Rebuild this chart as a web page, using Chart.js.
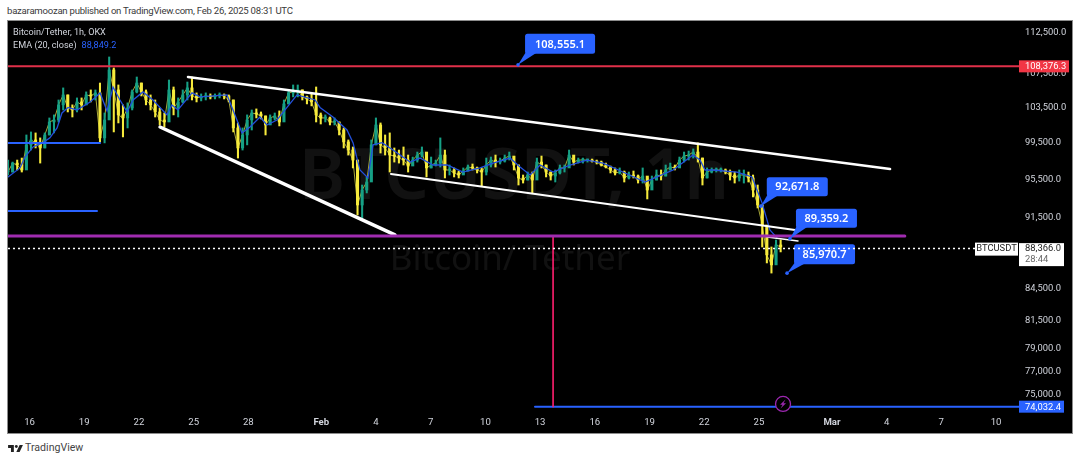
<!DOCTYPE html>
<html>
<head>
<meta charset="utf-8">
<title>BTCUSDT</title>
<script src="https://cdn.jsdelivr.net/npm/chart.js@4"></script>
<style>
  html, body { margin: 0; padding: 0; background: #fff; overflow: hidden; }
  body { width: 1080px; height: 461px; position: relative; font-family: Roboto, sans-serif; }
  #byline { position: absolute; left: 7px; top: 4px; font-size: 9.6px; letter-spacing: -0.25px; line-height: 14px; color: #3a3a3a; white-space: nowrap; }
  #frame { position: absolute; left: 7px; top: 20px; width: 1064px; height: 412px; background: #000; border: 1px solid #8c8c8c; }
  #frame canvas { display: block; }
  #legend { position: absolute; left: 5px; top: 5px; font-size: 9.1px; line-height: 12.5px; color: #d1d4dc; white-space: nowrap; }
  #legend span { color: #2962ff; margin-left: 5px; }
  #brand { position: absolute; left: 8px; top: 441px; font-size: 10.6px; line-height: 14px; color: #444; white-space: nowrap; }
  #brand svg { position: absolute; left: 0; top: 4px; }
  #brand b { font-weight: 400; margin-left: 17px; }
</style>
</head>
<body>
<div id="byline">bazaramoozan published on TradingView.com, Feb 26, 2025 08:31 UTC</div>
<div id="frame">
  <canvas id="chart" width="1064" height="412"></canvas>
  <div id="legend">Bitcoin/Tether, 1h, OKX<br>EMA (20, close)<span>88,849.2</span></div>
</div>
<div id="brand">
  <svg width="15" height="7" viewBox="0 0 36 17"><path fill="#222" d="M14 17H7V7H0V0h14zM28 17h-8L28 0h8z"/><circle fill="#222" cx="20" cy="3.5" r="3.5"/></svg>
  <b>TradingView</b>
</div>

<script>
// days are counted from Jan 16 2025, candles sit roughly six hours apart
var firstCandleDay = -1.18;
var candleStep = 0.2522;

var candleHigh = [97580,97360,97580,97800,100360,100700,100590,100030,100590,102290,102640,104370,105790,104960,103800,104610,104610,105320,105550,105550,106370,102860,109520,108180,106140,103800,104030,105550,107090,106370,105550,104960,104370,103440,102860,106730,105900,104610,105550,106490,107090,105200,105080,105200,105080,105080,105200,105080,104960,104370,101720,101150,102640,103210,103330,102980,102520,102640,102860,103100,104370,105550,106140,106140,105550,104840,105080,105900,102860,102640,102400,102290,101830,101150,99800,99020,97580,94890,95750,99800,102290,101720,100360,100590,98910,98680,99020,98130,97910,98460,99020,98130,97910,97580,100030,98680,97040,96720,96390,96720,97040,97150,96820,96720,97800,97910,98130,97800,98130,98460,97910,97040,95960,96280,96280,97800,98020,97040,96280,96500,97040,97040,98680,97800,97800,97800,97690,97690,97580,97470,97250,96930,96720,96720,96390,96280,96390,95960,96720,95640,95850,96500,96500,97040,97250,97040,97910,98460,98570,98800,99470,97800,96720,96720,96720,96720,96610,96500,96280,96500,96500,96280,95960,94890,92790,90430,88530,89230,89230];
var candleLow = [95960,96280,96500,96280,97040,98680,98910,97250,98910,100360,100590,101830,103210,102980,102400,102980,103210,103800,104140,104370,99580,99470,104960,100700,101720,100140,101150,103210,105200,104840,103800,103210,102400,101490,101260,102290,102640,102400,104030,104370,104370,104140,104260,104370,104490,104490,104610,104490,104140,100700,97800,98680,99250,100920,102290,102180,100360,101600,102060,101380,102290,103910,104730,104730,104370,103910,103680,101830,101600,101830,101490,101490,100360,98910,98130,96720,91760,91250,94050,95420,99250,98350,98130,96280,97360,97250,97040,96280,97040,97360,97910,95750,96720,96930,96820,95640,95960,95750,95640,96070,96390,96500,96180,94780,95960,96820,96820,97150,97360,97580,96500,94890,95100,95420,94050,96180,96720,95750,95420,95210,96070,96280,96820,97040,97250,97250,97360,97360,97150,96930,96720,96180,95960,96070,95210,95530,95640,95100,95100,93420,95000,95420,95420,95850,96500,96500,97040,97360,97580,97800,97360,94890,95640,96180,96280,96280,96070,95420,95100,95310,95100,95210,93630,92480,88530,86960,85980,87060,88040];
var candleClose = [96280,97250,97040,96500,99250,99800,99470,98910,100360,101830,102060,103800,104960,103440,103210,104140,103800,104960,104840,105200,100030,102060,107940,105550,102640,102290,103440,105320,106370,105320,104370,103800,102980,102060,101830,105550,103440,104140,104960,105790,104840,104610,104730,104840,104730,104840,104960,104840,104370,101150,98910,100360,102060,102860,102750,102520,101490,102290,102520,101830,103910,105200,105320,105550,104730,104490,104140,102640,102290,102290,101830,101830,100920,99580,98680,97580,92790,94360,95210,99250,101490,99250,98910,98130,98020,97800,97580,96930,97580,98130,98460,96720,97040,97250,98130,96500,96500,96180,95960,96390,96820,96720,96500,96280,97040,97580,97360,97470,97800,98020,97040,95640,95420,95960,95420,97360,97040,96280,95850,96180,96720,96720,98130,97360,97580,97580,97580,97470,97360,97040,96820,96500,96180,96280,95640,95960,95850,95420,95850,94360,95420,95960,95850,96500,96820,96720,97580,98020,98130,98460,97800,95640,96280,96500,96500,96500,96280,95960,95640,95960,95960,95640,94360,92790,90740,87750,86770,88730,88530];

var emaDays = [-1.18,-0.52,-0.25,0.19,0.74,1.12,1.51,1.78,2.11,2.6,3.32,3.87,4.25,4.58,4.96,5.35,5.68,6.22,6.77,7.54,7.81,8.14,8.91,9.35,10.83,11.16,11.65,12.09,12.64,13.02,13.57,14.12,14.67,15.66,15.93,16.64,17.41,17.74,18.12,18.56,18.84,19.33,19.93,20.87,21.41,22.13,22.9,23.77,24.71,25.42,26.35,26.9,27.45,28,28.71,29.64,30.57,31.45,32.54,33.75,34.41,35.29,36.38,36.77,37.04,37.48,38.8,39.62,40.17,40.6,40.99];
var emaPrices = [95750,96720,97910,99020,99500,100030,101150,102860,103500,103210,104140,105200,103100,105900,104370,102980,104370,105320,104370,102640,103790,103210,105200,104730,104960,103210,100590,101260,102400,101490,102060,103500,104960,104370,103500,102400,100920,99500,96500,95640,99250,99500,98680,97360,97800,97040,97040,96280,96720,97250,97800,96820,95960,97040,96280,97040,97580,97250,96280,95210,95750,96500,98130,97580,96500,96500,96280,95750,93010,90230,89430];

var upperTrendDays = [8.69, 47.19];
var upperTrendPrices = [107090, 96610];
var wedgeTrendDays = [7.16, 20.04];
var wedgeTrendPrices = [101260, 89730];
var lowerTrendDays = [19.82, 41.98];
var lowerTrendPrices = [96070, 90230];
var breakTrendDays = [40.44, 42.14];
var breakTrendPrices = [89530, 89130];

var resistancePrice = 108376.3;
var targetPrice = 74032.4;
var pivotPrice = 89630;
var lastPrice = 88366;
var shortLevelPrices = [99470, 92170];
var shortLevelEnds = [3.87, 3.70];
var pivotEndDay = 48.0;
var targetStartDay = 27.72;
var dropDay = 28.71;
var lastPriceEndDay = 53.2;
var boltDay = 41.32;
var boltPrice = 74260;

var calloutDays = [26.79, 40.1, 41.7, 41.54];
var calloutPrices = [108555.1, 92671.8, 89359.2, 85970.7];
var calloutTexts = ['108,555.1', '92,671.8', '89,359.2', '85,970.7'];

var priceTicks = [112500, 107500, 103500, 99500, 95500, 91500, 84500, 81500, 79000, 77000, 75000];
var dayTicks = [0, 3, 6, 9, 12, 16, 19, 22, 25, 28, 31, 34, 37, 40, 44, 47, 50, 53];
var dayTickLabels = ['16', '19', '22', '25', '28', 'Feb', '4', '7', '10', '13', '16', '19', '22', '25', 'Mar', '4', '7', '10'];

var dayMin = -1.18;
var dayMax = 54.26;
var priceMin = 73510;
var priceMax = 114020;

var UP = '#16a085';
var DOWN = '#f6ea3c';
var BLUE = '#2962ff';
var EMA_BLUE = '#2350dc';
var FONT = 'Roboto, sans-serif';

function pairs(xs, ys) {
  return xs.map(function(x, i) { return { x: x, y: ys[i] }; });
}

function lineSet(label, xs, ys, color, width, order, dash) {
  return {
    type: 'line', label: label, data: pairs(xs, ys),
    borderColor: color, borderWidth: width, borderDash: dash || [],
    pointRadius: 0, tension: 0, order: order, borderCapStyle: dash ? 'butt' : 'round'
  };
}

var candleDays = candleClose.map(function(c, i) { return firstCandleDay + i * candleStep; });
var candleColors = candleClose.map(function(c, i) {
  return i > 0 && c < candleClose[i - 1] ? DOWN : UP;
});

var wickData = candleDays.map(function(d, i) { return { x: d, y: [candleLow[i], candleHigh[i]] }; });
var bodyData = candleDays.map(function(d, i) {
  return { x: d, y: [i > 0 ? candleClose[i - 1] : candleClose[i], candleClose[i]] };
});

var watermark = {
  id: 'watermark',
  beforeDatasetsDraw: function(chart) {
    var ctx = chart.ctx;
    ctx.save();
    ctx.fillStyle = '#111';
    ctx.textAlign = 'center';
    ctx.textBaseline = 'middle';
    ctx.font = '600 70.5px "Noto Sans", sans-serif';
    ctx.fillText('BTCUSDT, 1h', 506, 158);
    ctx.font = '35px "Noto Sans", sans-serif';
    ctx.fillText('Bitcoin/ Tether', 502, 239);
    ctx.restore();
  }
};

function drawCallouts(chart) {
  var ctx = chart.ctx;
  var xs = chart.scales.x, ys = chart.scales.y;
  var boxes = [[7, -31, 70, 20], [6, -29, 61, 19], [6, -30, 61, 19], [7, -29, 61, 20]];
  calloutTexts.forEach(function(text, i) {
    var ax = xs.getPixelForValue(calloutDays[i]);
    var ay = ys.getPixelForValue(calloutPrices[i]);
    var b = boxes[i];
    var left = ax + b[0], top = ay + b[1];
    ctx.save();
    ctx.fillStyle = BLUE;
    ctx.beginPath();
    ctx.moveTo(ax, ay);
    ctx.lineTo(left + 1, top + b[3] - 2);
    ctx.lineTo(left + 13, top + b[3] - 2);
    ctx.closePath();
    ctx.fill();
    ctx.beginPath();
    ctx.arc(ax, ay, 1.8, 0, Math.PI * 2);
    ctx.fill();
    ctx.beginPath();
    ctx.roundRect(left, top, b[2], b[3], 2.5);
    ctx.fill();
    ctx.fillStyle = '#fff';
    ctx.font = '600 11px "Noto Sans", sans-serif';
    ctx.textAlign = 'center';
    ctx.textBaseline = 'middle';
    ctx.fillText(text, left + b[2] / 2, top + b[3] / 2 + 0.5);
    ctx.restore();
  });
}

var overlays = {
  id: 'overlays',
  beforeDatasetDraw: function(chart, args) {
    if (chart.data.datasets[args.index].label === 'last price') drawCallouts(chart);
  },
  afterDatasetsDraw: function(chart) {
    var ctx = chart.ctx;
    var ys = chart.scales.y, xs = chart.scales.x;
    var right = chart.chartArea.right;

    function tag(price, bg, fg, w, text) {
      var y = ys.getPixelForValue(price);
      ctx.fillStyle = bg;
      ctx.fillRect(right, y - 6, w, 12);
      ctx.fillStyle = fg;
      ctx.font = '9.4px ' + FONT;
      ctx.textAlign = 'left';
      ctx.textBaseline = 'middle';
      ctx.fillText(text, right + 6, y + 0.5);
    }

    ctx.save();
    tag(resistancePrice, '#f23645', '#fff', 50, '108,376.3');
    tag(targetPrice, BLUE, '#fff', 45, '74,032.4');

    // last price: symbol chip and countdown
    var py = ys.getPixelForValue(lastPrice);
    ctx.fillStyle = '#fff';
    ctx.fillRect(right - 44, py - 6, 43, 13);
    ctx.fillRect(right, py - 5.5, 45, 23);
    ctx.fillStyle = '#222';
    ctx.font = '9.4px ' + FONT;
    ctx.textAlign = 'center';
    ctx.textBaseline = 'middle';
    ctx.fillText('BTCUSDT', right - 22.5, py + 0.5);
    ctx.textAlign = 'left';
    ctx.fillText('88,366.0', right + 6, py);
    ctx.fillStyle = '#666';
    ctx.fillText('28:44', right + 6, py + 11);

    // bolt marker
    var bx = xs.getPixelForValue(boltDay), by = ys.getPixelForValue(boltPrice);
    ctx.beginPath();
    ctx.arc(bx, by, 7.5, 0, Math.PI * 2);
    ctx.fillStyle = '#000';
    ctx.fill();
    ctx.lineWidth = 1.3;
    ctx.strokeStyle = '#9c27b0';
    ctx.stroke();
    ctx.fillStyle = '#9c27b0';
    ctx.beginPath();
    ctx.moveTo(bx + 2.5, by - 4.5);
    ctx.lineTo(bx - 3, by + 0.8);
    ctx.lineTo(bx - 0.4, by + 0.8);
    ctx.lineTo(bx - 2.5, by + 4.5);
    ctx.lineTo(bx + 3, by - 0.8);
    ctx.lineTo(bx + 0.4, by - 0.8);
    ctx.closePath();
    ctx.fill();
    ctx.restore();
  }
};

// the axes reserve room for their end labels, which would shrink the plot
function dropAxisPadding(axis) {
  axis.paddingTop = 0;
  axis.paddingBottom = 0;
  axis.paddingLeft = 0;
  axis.paddingRight = 0;
}

new Chart(document.getElementById('chart'), {
  type: 'bar',
  data: {
    datasets: [
      { type: 'bar', label: 'wicks', data: wickData, backgroundColor: candleColors, barThickness: 1.4, grouped: false, minBarLength: 1, order: 20 },
      { type: 'bar', label: 'bodies', data: bodyData, backgroundColor: candleColors, barThickness: 2.4, grouped: false, minBarLength: 1, order: 19 },
      lineSet('close path', candleDays, candleClose, '#a8a838', 1, 21),
      lineSet('EMA 20', emaDays, emaPrices, EMA_BLUE, 1.3, 15),
      lineSet('level a', [dayMin, shortLevelEnds[0]], [shortLevelPrices[0], shortLevelPrices[0]], BLUE, 2, 12),
      lineSet('level b', [dayMin, shortLevelEnds[1]], [shortLevelPrices[1], shortLevelPrices[1]], BLUE, 2, 12),
      lineSet('resistance', [dayMin, dayMax], [resistancePrice, resistancePrice], '#e0304a', 2, 11),
      lineSet('target', [targetStartDay, dayMax], [targetPrice, targetPrice], BLUE, 2, 11),
      lineSet('drop', [dropDay, dropDay], [pivotPrice, targetPrice], '#ff1f6e', 1.6, 10),
      lineSet('upper trend', upperTrendDays, upperTrendPrices, '#fff', 2.5, 9),
      lineSet('wedge trend', wedgeTrendDays, wedgeTrendPrices, '#fff', 3.5, 9),
      lineSet('lower trend', lowerTrendDays, lowerTrendPrices, '#fff', 2, 9),
      lineSet('break trend', breakTrendDays, breakTrendPrices, '#fff', 1.5, 9),
      lineSet('pivot', [dayMin, pivotEndDay], [pivotPrice, pivotPrice], '#a02cb0', 3, 8),
      lineSet('last price', [dayMin, lastPriceEndDay], [lastPrice, lastPrice], '#fff', 1.5, 1, [2, 3])
    ]
  },
  options: {
    responsive: false,
    animation: false,
    events: [],
    devicePixelRatio: 1,
    layout: { padding: 0, autoPadding: false },
    plugins: { legend: { display: false }, tooltip: { enabled: false } },
    scales: {
      x: {
        type: 'linear', min: dayMin, max: dayMax, offset: false, bounds: 'data',
        grid: { display: false, drawTicks: false }, border: { display: false },
        afterFit: function(axis) { axis.height = 20; dropAxisPadding(axis); },
        afterBuildTicks: function(axis) {
          axis.ticks = dayTicks.map(function(d) { return { value: d }; });
        },
        ticks: {
          autoSkip: false, maxRotation: 0, color: '#d1d4dc', padding: 4,
          font: function(ctx) {
            var label = dayTickLabels[ctx.index];
            return { family: FONT, size: 9.6, weight: label === 'Feb' || label === 'Mar' ? '700' : '400' };
          },
          callback: function(value, index) { return dayTickLabels[index]; }
        }
      },
      y: {
        type: 'logarithmic', position: 'right', min: priceMin, max: priceMax, bounds: 'data',
        grid: { display: false, drawTicks: false }, border: { display: false },
        afterFit: function(axis) { axis.width = 53; dropAxisPadding(axis); },
        afterBuildTicks: function(axis) {
          axis.ticks = priceTicks.map(function(p) { return { value: p }; });
        },
        ticks: {
          autoSkip: false, color: '#d1d4dc', padding: 6, font: { family: FONT, size: 9.4 },
          callback: function(value) {
            return value.toLocaleString('en-US', { minimumFractionDigits: 1, maximumFractionDigits: 1 });
          }
        }
      }
    }
  },
  plugins: [watermark, overlays]
});
</script>
</body>
</html>
